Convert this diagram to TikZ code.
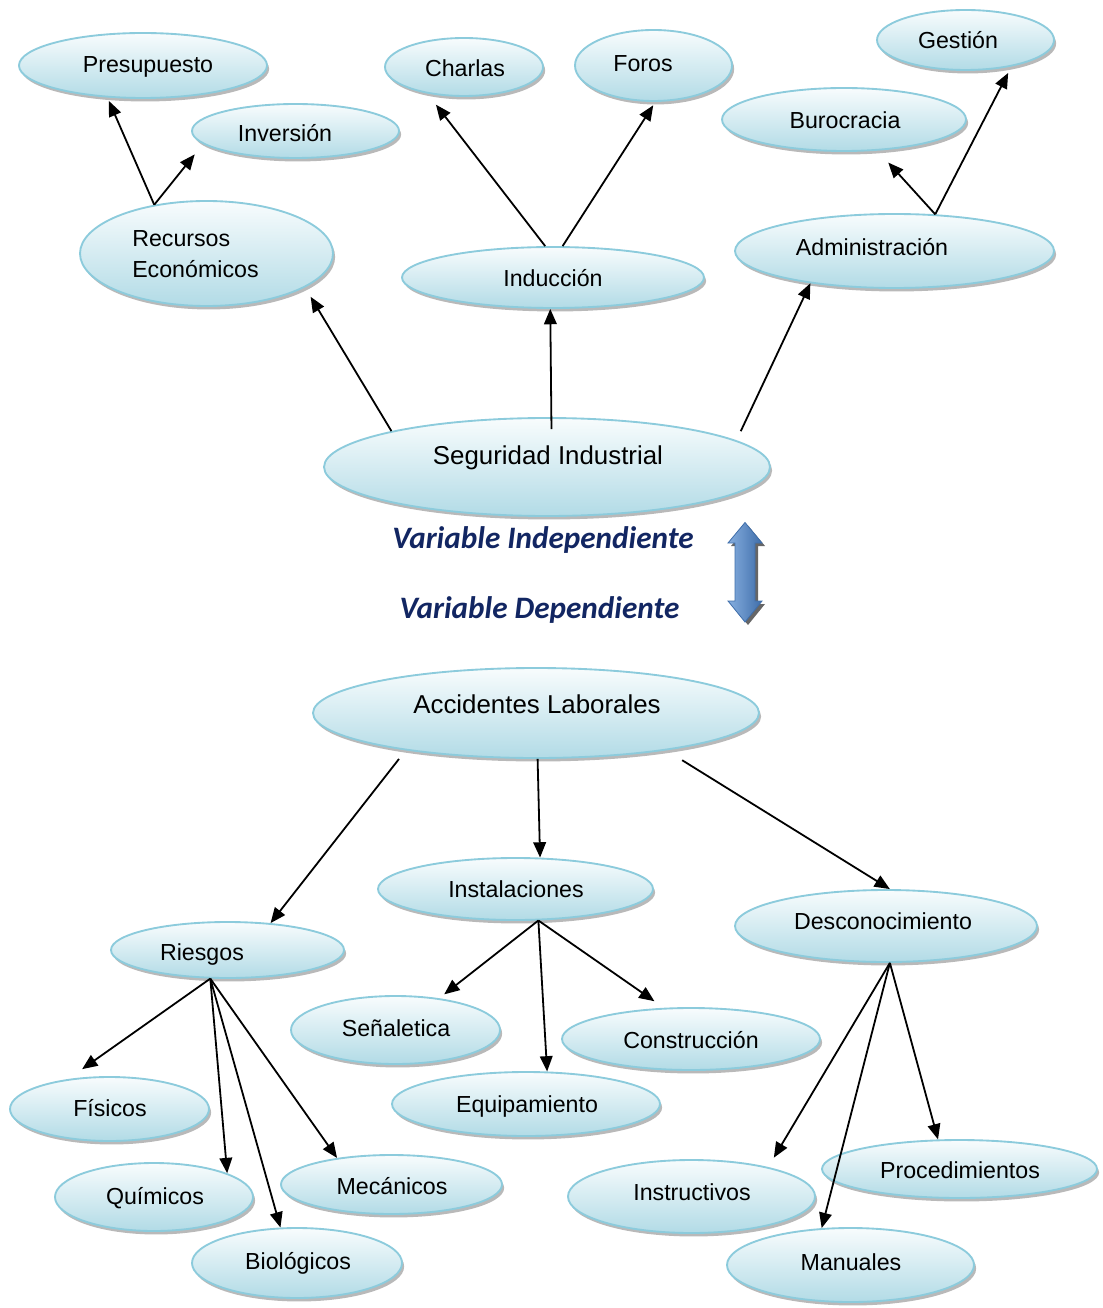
\documentclass[tikz,border=0pt]{standalone}
\usepackage{fontspec}
\setmainfont{Liberation Sans}
\newfontfamily\calib{Carlito}
\usetikzlibrary{shapes.geometric,shadows,arrows.meta}

\definecolor{bubedge}{HTML}{8CCBDC}
\definecolor{bubtop}{HTML}{F8FCFD}
\definecolor{bubbot}{HTML}{B2DBE6}
\definecolor{navy}{RGB}{18,38,98}
\definecolor{arrlight}{HTML}{86AEDF}
\definecolor{arrdark}{HTML}{3F6EAA}

\newcommand{\bigtxt}{\fontsize{19.4}{23}\selectfont}

% ellipse bubble: name, centre x, centre y, width, height, text x, text y, text
\newcommand{\elli}[8]{%
  \node[bubble, minimum width=#4*0.75pt, minimum height=#5*0.75pt] (#1) at (#2,#3) {};
  \node[lbl] (#1-t) at (#6,#7) {#8};}

\tikzset{
  bubble/.style={ellipse, draw=bubedge, line width=1.4pt, inner sep=0pt,
    top color=bubtop, bottom color=bubbot,
    drop shadow={shadow xshift=1.6pt, shadow yshift=-2.6pt, fill=gray!55, opacity=1}},
  lbl/.style={inner sep=0pt, anchor=mid, yshift=-3.8pt, font=\fontsize{17.4}{21}\selectfont},
  link/.style={-{Triangle[length=11.5pt,width=9.5pt]}, line width=1.35pt},
  vartxt/.style={inner sep=0pt, anchor=mid, yshift=-4.8pt, text=navy,
    font=\calib\bfseries\itshape\fontsize{23.4}{28}\selectfont}
}

\begin{document}
\begin{tikzpicture}[x=0.75pt,y=-0.75pt]
\useasboundingbox (0,0) rectangle (1102,1308);

% upper tree: Seguridad Industrial
\elli{pres}{143}{65.5}{248}{65}{148}{64}{Presupuesto}
\elli{inv}{295.5}{131}{207}{54}{285}{133}{Inversión}
\node[bubble, minimum width=253*0.75pt, minimum height=105*0.75pt] (rec) at (206.5,253.5) {};
\node[lbl, yshift=3.8pt, anchor=west, align=left, font=\fontsize{17.4}{23.2}\selectfont] (rec-t) at (132,254) {Recursos\\Económicos};
\elli{cha}{464}{67}{158}{58}{465}{68}{Charlas}
\elli{foro}{653.5}{65.5}{157}{71}{643}{63}{Foros}
\elli{ges}{965.5}{40}{177}{60}{958}{40}{Gestión}
\elli{bur}{844}{119.5}{244}{63}{845}{120}{Burocracia}
\elli{ind}{553}{277.5}{302}{61}{553}{278}{Inducción}
\elli{adm}{894.5}{251}{319}{74}{872}{247}{Administración}
\elli{seg}{547}{467}{446}{98}{548}{456}{\bigtxt Seguridad Industrial}

% lower tree: Accidentes Laborales
\elli{acc}{536}{713}{446}{90}{537}{705}{\bigtxt Accidentes Laborales}
\elli{ins}{515.5}{889}{275}{62}{516}{889}{Instalaciones}
\elli{des}{886}{926}{302}{72}{883}{921}{Desconocimiento}
\elli{rie}{227.5}{950}{233}{56}{202}{952}{Riesgos}
\elli{sen}{395.5}{1030}{209}{68}{396}{1028}{Señaletica}
\elli{con}{691}{1039}{258}{62}{691}{1040}{Construcción}
\elli{equ}{526}{1104}{268}{64}{527}{1104}{Equipamiento}
\elli{fis}{109.5}{1109}{199}{64}{110}{1108}{Físicos}
\elli{qui}{154}{1197}{198}{68}{155}{1196}{Químicos}
\elli{mec}{391.5}{1184.5}{221}{59}{392}{1186}{Mecánicos}
\elli{bio}{297}{1263}{210}{70}{298}{1261}{Biológicos}
\elli{inst}{691.5}{1196.5}{247}{73}{692}{1192}{Instructivos}
\elli{pro}{959.5}{1169}{275}{58}{960}{1170}{Procedimientos}
\elli{man}{850.5}{1265}{247}{74}{851}{1262}{Manuales}

% variable captions
\node[vartxt] (vi) at (543,539) {Variable Independiente};
\node[vartxt] (vd) at (539.5,609) {Variable Dependiente};

% two-headed block arrow between the captions
\fill[black!75, opacity=0.8] (748,525.5) -- (765,546) -- (758,546) -- (758,604) -- (765,604)
  -- (748,625) -- (731,604) -- (738,604) -- (738,546) -- (731,546) -- cycle;
\draw[arrdark, line width=0.6pt, left color=arrlight, right color=arrdark]
  (745,522.5) -- (762,543) -- (755,543) -- (755,601) -- (762,601)
  -- (745,622) -- (728,601) -- (735,601) -- (735,543) -- (728,543) -- cycle;

% connectors of the upper tree
\draw[link, shorten >=2.8pt] (rec.137.9) -- (pres.222.1);
\draw[link, shorten >=10pt] (rec.137.9) -- (inv.188.7);
\draw[link, shorten >=8.2pt] (seg.167.7) -- (rec.341.4);
\draw[link, shorten <=-9pt] (seg.85.4) -- (ind.265);
\draw[link, shorten <=7.6pt] (seg.8.7) -- (adm.201);
\draw[link, shorten >=10.5pt] (ind.104.7) -- (cha.216.1);
\draw[link, shorten >=3pt] (ind.73.6) -- (foro.273);
\draw[link, shorten >=12pt] (adm.42.4) -- (bur.317.4);
\draw[link, shorten >=5.4pt] (adm.42.4) -- (ges.330.8);

% connectors of the lower tree
\draw[link, shorten <=8.2pt] (acc.196.7) -- (rie.32.2);
\draw[link] (acc.272.4) -- (ins.52.2);
\draw[link, shorten <=14pt] (acc.344.8) -- (des.84);
\draw[link, shorten >=4.7pt] (ins.306) -- (sen.36.1);
\draw[link] (ins.306) -- (equ.57.1);
\draw[link, shorten >=8.6pt] (ins.306) -- (con.131.2);
\draw[link, shorten >=12.8pt] (rie.239.7) -- (fis.144.8);
\draw[link] (rie.239.7) -- (qui.18.2);
\draw[link] (rie.239.7) -- (bio.115.2);
\draw[link] (rie.239.7) -- (mec.154.1);
\draw[link, shorten >=8.2pt] (des.276) -- (inst.21.3);
\draw[link] (des.276) -- (man.128.2);
\draw[link] (des.276) -- (pro.126.9);
\end{tikzpicture}
\end{document}
